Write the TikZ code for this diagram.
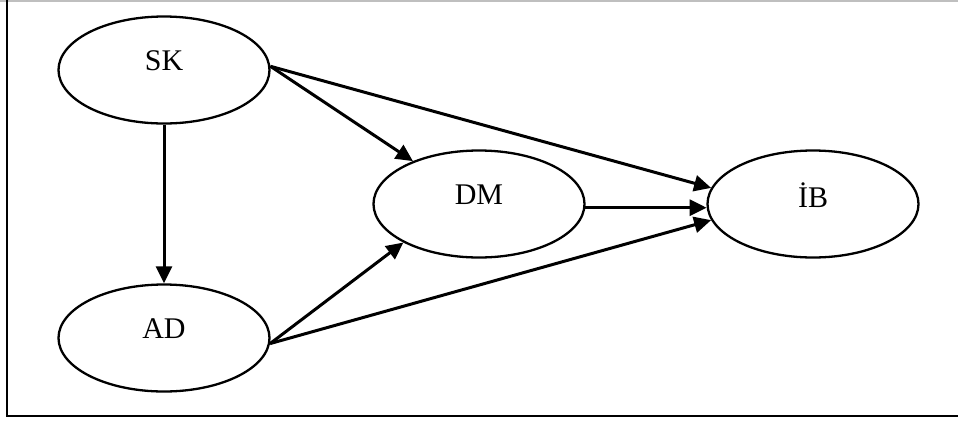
\documentclass[tikz,border=0pt]{standalone}
\usepackage{fontspec}
\setmainfont{Liberation Serif}
\usetikzlibrary{shapes.geometric,arrows.meta}
\begin{document}
\begin{tikzpicture}[x=1pt,y=-1pt,
  ov/.style={draw,ellipse,line width=2.3pt,minimum width=211pt,minimum height=107pt,inner sep=0pt},
  lbl/.style={font=\fontsize{30}{35}\selectfont,yshift=9pt,inner sep=0pt},
  arr/.style={line width=3pt,-{Triangle[length=17pt,width=16pt]}}]
\useasboundingbox (0,0) rectangle (958,421);
% frame
\draw[line width=2pt,black!25] (0,1) -- (958,1);
\draw[line width=2.2pt] (7,0) -- (7,416) -- (958,416);
% nodes
\node[ov,label={[lbl]center:SK}] (sk) at (164,70) {};
\node[ov,label={[lbl]center:AD}] (ad) at (164,338) {};
\node[ov,label={[lbl]center:DM}] (dm) at (479,204) {};
\node[ov,label={[lbl]center:İB}] (ib) at (813,204) {};
% connectors
\draw[arr] (sk) -- (ad);
\draw[arr] (sk.2) -- (dm.147);
\draw[arr] (sk.2) -- (ib.171);
\draw[arr] (dm.-2) -- (ib.182);
\draw[arr] (ad.-3) -- (dm.207);
\draw[arr] (ad.-3) -- (ib.189);
\end{tikzpicture}
\end{document}
